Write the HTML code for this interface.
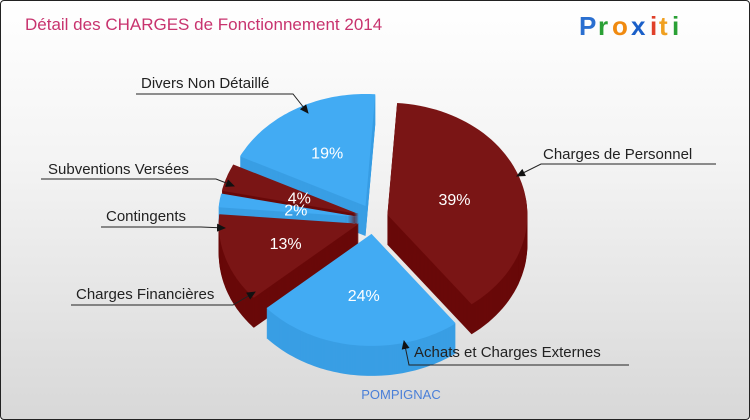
<!DOCTYPE html>
<html><head><meta charset="utf-8">
<style>
html,body{margin:0;padding:0;}
body{width:750px;height:420px;overflow:hidden;font-family:"Liberation Sans",sans-serif;}
#wrap{position:absolute;left:0;top:0;width:748px;height:418px;border:1px solid #222;border-radius:4px;background:linear-gradient(#ffffff 0%,#f3f3f3 40%,#d8d8d8 100%);overflow:hidden;}
</style></head><body>
<div id="wrap">
<svg id="svg" width="750" height="420" viewBox="0 0 750 420">
<text x="24" y="29" font-size="17" fill="#c8336e">Détail des CHARGES de Fonctionnement 2014</text>
<g font-size="26" font-weight="bold" font-family="Liberation Sans, sans-serif">
<text x="578" y="34" fill="#2a6fd0">P</text><text x="597" y="34" fill="#2aa035">r</text><text x="611" y="34" fill="#f08a10">o</text><text x="630" y="34" fill="#1a5fc8">x</text><text x="649" y="34" fill="#e0402a">i</text><text x="658" y="34" fill="#f0a020">t</text><text x="671" y="34" fill="#2aa035">i</text>
</g>
<g id="slices"></g>
<g id="pcts"></g>
<g font-size="15" fill="#222" stroke="none">
<text x="140" y="87">Divers Non Détaillé</text>
<text x="542" y="158">Charges de Personnel</text>
<text x="47" y="173">Subventions Versées</text>
<text x="105" y="220">Contingents</text>
<text x="75" y="298">Charges Financières</text>
<text x="413" y="356">Achats et Charges Externes</text>
</g>
<defs><marker id="arr" markerWidth="10" markerHeight="10" refX="8" refY="4" orient="auto" markerUnits="userSpaceOnUse"><path d="M0,0 L9,4 L0,8 z" fill="#111"/></marker></defs>
<g stroke="#222" stroke-width="1" fill="none" marker-end="url(#arr)">
<polyline points="135,93 292,93 307,112"/>
<polyline points="715,163 540,163 516,175"/>
<polyline points="40,178 215,178 233,185"/>
<polyline points="100,226 200,226 224,227"/>
<polyline points="70,304 232,304 254,291"/>
<polyline points="628,364 408,364 403,340"/>
</g>
<text x="400" y="398" font-size="13" fill="#4a7fd8" text-anchor="middle">POMPIGNAC</text>
</svg>
</div>
<script>
const categories=["Charges de Personnel","Achats et Charges Externes","Charges Financières","Contingents","Subventions Versées","Divers Non Détaillé"];
const values=[39,24,13,2,4,19];
const labels=["39%","24%","13%","2%","4%","19%"];
const colorKinds=["red","blue","red","blue","red","blue"];
const NS="http://www.w3.org/2000/svg";
const cx=372,cy=218,rx=140,ry=112,depth=30,explode=15,start=-86;
const cols={red:["#7a1515","#690909"],blue:["#42abf3","#399ee4"]};
const total=values.reduce((a,b)=>a+b,0);
function pt(a,r1,r2,ox,oy){const t=a*Math.PI/180;return [ox+r1*Math.cos(t),oy+r2*Math.sin(t)];}
function pathFor(a0,a1,ox,oy){
  let d="M"+ox.toFixed(1)+","+oy.toFixed(1);
  for(let a=a0;a<=a1+0.001;a+=Math.max(0.5,(a1-a0)/60)){const p=pt(Math.min(a,a1),rx,ry,ox,oy);d+=" L"+p[0].toFixed(1)+","+p[1].toFixed(1);}
  const p=pt(a1,rx,ry,ox,oy);d+=" L"+p[0].toFixed(1)+","+p[1].toFixed(1)+"Z";return d;}
const sl=[];let a=start;
values.forEach((v,i)=>{const sw=v/total*360;sl.push({i,a0:a,a1:a+sw,mid:a+sw/2});a+=sw;});
const order=sl.slice().sort((p,q)=>Math.sin(p.mid*Math.PI/180)-Math.sin(q.mid*Math.PI/180));
const g=document.getElementById("slices");
order.forEach(s=>{
  const m=s.mid*Math.PI/180;const ox=cx+explode*Math.cos(m),oy=cy+explode*Math.sin(m);
  const c=cols[colorKinds[s.i]];
  const grp=document.createElementNS(NS,"g");
  
  
  for(let d=depth;d>0;d-=1){const p=document.createElementNS(NS,"path");p.setAttribute("d",pathFor(s.a0,s.a1,ox,oy+d));p.setAttribute("fill",c[1]);grp.appendChild(p);}
  const top=document.createElementNS(NS,"path");top.setAttribute("d",pathFor(s.a0,s.a1,ox,oy));top.setAttribute("fill",c[0]);grp.appendChild(top);
  g.appendChild(grp);
});
const pg=document.getElementById("pcts");
sl.forEach(s=>{
  const r=s.i===0?0.5:(values[s.i]<6?0.45:0.55);
  const p=pt(s.mid,rx*r+explode,ry*r+explode,cx,cy);
  const t=document.createElementNS(NS,"text");
  
  
  t.setAttribute("x",p[0]);t.setAttribute("y",p[1]+6);t.setAttribute("fill","#fff");t.setAttribute("font-size","16");t.setAttribute("text-anchor","middle");
  t.textContent=labels[s.i];pg.appendChild(t);
});
</script>
</body></html>
